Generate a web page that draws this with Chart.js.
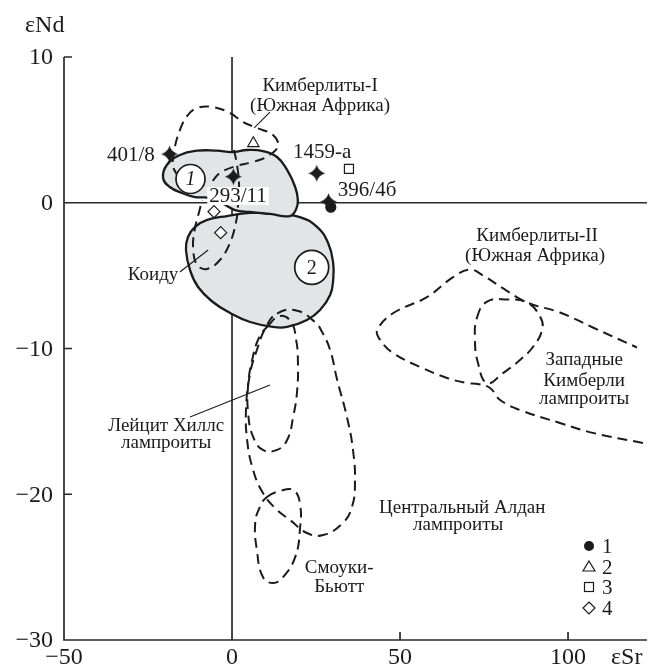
<!DOCTYPE html>
<html>
<head>
<meta charset="utf-8">
<script src="https://cdn.jsdelivr.net/npm/chart.js@4/dist/chart.umd.min.js"></script>
<style>
  html, body { margin: 0; padding: 0; background: #fff; }
  canvas { display: block; }
</style>
</head>
<body>
<canvas id="c" width="650" height="669"></canvas>
<script>
// εSr–εNd diagram: fields of kimberlites and lamproites, plus studied samples.

const xTicks = [-50, 0, 50, 100];
const yTicks = [10, 0, -10, -20, -30];

// Grey fields (closed outlines), [εSr, εNd]
const fieldOne = [[-20.5,1.70],[-19.4,2.59],[-15.5,3.28],[-10.4,3.57],[-4.5,3.57],[0,3.48],[4.5,3.62],[9.2,3.55],
  [13.4,3.14],[16.4,2.25],[18.8,1.08],[19.6,0.19],[19.1,-0.43],[17.3,-0.91],[11.3,-0.77],[5.4,-0.63],
  [0.9,-0.50],[-3.0,-0.02],[-6.6,0.33],[-11.0,0.39],[-14.9,0.67],[-18.5,1.08]];
const fieldTwo = [[-13.1,-2.35],[-11.0,-1.66],[-7.4,-1.18],[-1.5,-0.91],[5.4,-0.70],[12.2,-0.70],[20.2,-0.98],
  [25.3,-1.66],[28.6,-2.76],[30.1,-4.13],[30.1,-5.30],[29.2,-6.33],[26.2,-7.36],[22.3,-8.04],[16.4,-8.52],
  [12.2,-8.52],[5.4,-8.18],[-0.6,-7.56],[-5.7,-6.81],[-10.1,-5.78],[-12.5,-4.61],[-13.7,-3.24]];

// Dashed reference fields
const kimberlitesI = [[-16.1,1.77],[-17.6,2.59],[-17.0,3.83],[-15.5,4.99],[-13.4,5.95],[-10.4,6.50],[-5.7,6.57],
  [-0.6,6.16],[3.3,5.54],[7.4,5.13],[12.2,4.65],[13.7,3.90],[10.7,3.21],[6.3,2.80],[1.2,2.52],[-3.6,2.04],[-6.0,1.43]];
const koidu = [[0.6,3.62],[1.5,2.59],[2.1,1.22],[1.8,-0.15],[1.2,-1.32],[-0.6,-2.76],[-3.6,-3.93],[-7.4,-4.54],
  [-10.4,-4.27],[-11.6,-3.04],[-11.0,-1.73],[-9.8,-0.64],[-8.9,0.19]];
const leuciteHills = [[10.7,-8.46],[14.3,-7.77],[17.6,-8.18],[19.1,-9.42],[19.6,-10.79],[19.4,-12.85],[18.2,-14.70],
  [16.4,-16.28],[13.4,-16.96],[9.2,-16.96],[6.3,-16.07],[4.8,-14.42],[4.8,-12.50],[6.0,-10.79],[8.0,-9.28]];
const centralAldan = [[13.4,-7.60],[19.1,-7.39],[24.7,-8.18],[26.8,-8.87],[29.2,-10.10],[31.3,-12.16],[34.2,-14.70],
  [36.0,-16.96],[36.6,-19.23],[35.7,-20.87],[33.0,-21.97],[27.1,-22.80],[22.3,-22.66],[17.3,-21.77],[13.4,-21.08],
  [9.2,-19.91],[6.3,-18.34],[4.5,-16.28],[4.2,-14.02],[5.4,-11.69],[7.4,-10.10],[10.1,-8.53]];
const smokyButte = [[10.4,-20.19],[14.3,-19.78],[18.2,-19.71],[20.2,-20.60],[20.2,-22.45],[18.8,-24.31],[15.2,-25.68],
  [12.2,-26.09],[9.2,-25.68],[7.4,-23.83],[6.9,-21.97],[8.3,-20.87]];
const kimberlitesII = [[122.3,-16.48],[107.4,-15.79],[97.6,-15.11],[85.7,-14.22],[79.8,-13.53],[76.8,-12.71],
  [73.2,-12.44],[69.9,-12.37],[64.0,-12.02],[56.0,-11.27],[47.9,-10.31],[44.1,-9.42],[43.2,-8.74],[47.9,-7.58],
  [58.0,-6.48],[65.8,-5.10],[70.8,-4.58],[74.7,-4.99],[80.7,-5.88],[87.8,-6.84],[97.6,-7.53],[107.4,-8.56],[120.5,-9.93]];
const westKimberley = [[72.9,-7.89],[75.9,-6.79],[81.9,-6.64],[87.8,-6.85],[91.7,-7.82],[92.3,-8.71],[89.6,-9.88],
  [85.7,-10.79],[80.7,-11.68],[75.9,-12.37],[73.2,-10.99],[72.3,-9.42]];

// Leader lines from captions to their fields
const leaderKimberlitesI = [[11.3,6.22],[6.6,5.13]];
const leaderKoidu = [[-15.5,-4.75],[-7.1,-3.24]];
const leaderLeucite = [[-12.5,-14.70],[11.3,-12.50]];

// Field numbers
const fieldNumbers = ['1', '2'];
const fieldNumberPoints = [[-12.35,1.63],[23.72,-4.43]];

// Studied samples
const sampleNames = ['401/8', '293/11', '1459-а', '396/4б'];
const samplePoints = [[-18.6,3.34],[0.4,1.79],[25.2,2.02],[28.7,0.07]];

// Literature data, types 1–4
const type1 = [[29.4,-0.31]];
const type2 = [[6.35,4.08]];
const type3 = [[34.8,2.32]];
const type4 = [[-5.36,-0.61],[-3.37,-2.05]];
const legendNames = ['1', '2', '3', '4'];

// Caption placement, [text, εSr, εNd]
const captions = [
  ['Кимберлиты-I', 26.2, 8.01], ['(Южная Африка)', 26.2, 6.64],
  ['Коиду', -23.5, -4.96],
  ['Кимберлиты-II', 90.8, -2.30], ['(Южная Африка)', 90.2, -3.67],
  ['Западные', 104.8, -10.79], ['Кимберли', 104.8, -12.23], ['лампроиты', 104.8, -13.46],
  ['Лейцит Хиллс', -19.6, -15.32], ['лампроиты', -19.6, -16.48],
  ['Центральный Алдан', 68.5, -20.95], ['лампроиты', 67.3, -22.14],
  ['Смоуки-', 31.9, -25.06], ['Бьютт', 31.9, -26.37]
];
const sampleLabelPos = [[-30.1,3.27],[1.8,0.46],[26.8,3.48],[40.2,0.81]];

const SERIF = '"Liberation Serif", "DejaVu Serif", serif';
const INK = '#1b1b1b';

const pts = arr => arr.map(([x, y]) => ({ x, y }));
// A closed outline: wrap one point on each side so the spline joins smoothly,
// then hide the two wrap segments.
const loopData = arr => pts([arr[arr.length - 1], ...arr, arr[0], arr[1]]);
const loopSegment = arr => ({
  borderColor: c => (c.p0DataIndex === 0 || c.p0DataIndex === arr.length + 1) ? 'rgba(0,0,0,0)' : undefined
});

function greyField(arr) {
  return {
    data: loopData(arr), segment: loopSegment(arr), fill: 'shape',
    backgroundColor: '#e3e4e6', borderColor: INK, borderWidth: 2.3,
    tension: 0.45, pointRadius: 0, order: 20
  };
}
function dashedLoop(arr) {
  return {
    data: loopData(arr), segment: loopSegment(arr), fill: false,
    borderColor: INK, borderWidth: 2, borderDash: [10, 6],
    tension: 0.45, pointRadius: 0, order: 15
  };
}
function dashedOpen(arr) {
  return {
    data: pts(arr), fill: false, borderColor: INK, borderWidth: 2, borderDash: [10, 6],
    tension: 0.4, pointRadius: 0, order: 15
  };
}
function leader(arr) {
  return { data: pts(arr), fill: false, borderColor: INK, borderWidth: 1.1, tension: 0, pointRadius: 0, order: 12 };
}
function markers(arr, style, r, filled, extra) {
  return Object.assign({
    data: pts(arr), showLine: false, pointStyle: style, pointRadius: r,
    pointBackgroundColor: filled ? INK : '#fff', pointBorderColor: INK, pointBorderWidth: 1.2, order: 2
  }, extra || {});
}

// Four-pointed star used for the studied samples
function starImage(r) {
  const c = document.createElement('canvas');
  const s = Math.ceil(2 * r + 2);
  c.width = c.height = s;
  const g = c.getContext('2d');
  const m = s / 2, k = r * 0.22;
  g.beginPath();
  g.moveTo(m, m - r);
  g.quadraticCurveTo(m + k, m - k, m + r, m);
  g.quadraticCurveTo(m + k, m + k, m, m + r);
  g.quadraticCurveTo(m - k, m + k, m - r, m);
  g.quadraticCurveTo(m - k, m - k, m, m - r);
  g.closePath();
  g.fillStyle = INK;
  g.fill();
  return c;
}
const STAR = starImage(8.5);

const axesFrame = {
  id: 'axesFrame',
  beforeDatasetsDraw(chart) {
    const { ctx, chartArea: a, scales: { x, y } } = chart;
    ctx.save();
    ctx.strokeStyle = '#2a2a2a';
    ctx.lineWidth = 1.7;
    ctx.beginPath();
    ctx.moveTo(a.left, a.top); ctx.lineTo(a.left, a.bottom); ctx.lineTo(a.right, a.bottom);
    const x0 = x.getPixelForValue(0), y0 = y.getPixelForValue(0);
    ctx.moveTo(x0, a.top); ctx.lineTo(x0, a.bottom);
    ctx.moveTo(a.left, y0); ctx.lineTo(a.right, y0);
    yTicks.forEach(v => { if (v !== 0) { const p = y.getPixelForValue(v); ctx.moveTo(a.left, p); ctx.lineTo(a.left + 8, p); } });
    xTicks.forEach(v => { if (v !== 0 && v !== -50) { const p = x.getPixelForValue(v); ctx.moveTo(p, a.bottom); ctx.lineTo(p, a.bottom - 8); } });
    ctx.stroke();
    ctx.restore();
  }
};

const texts = {
  id: 'texts',
  afterDatasetsDraw(chart) {
    const { ctx, chartArea: a, scales: { x, y } } = chart;
    ctx.save();
    ctx.fillStyle = INK;
    ctx.textBaseline = 'middle';

    // axis numbers and titles
    ctx.font = '24px ' + SERIF;
    ctx.textAlign = 'right';
    yTicks.forEach(v => ctx.fillText(v < 0 ? '\u2212' + Math.abs(v) : String(v), a.left - 11, y.getPixelForValue(v) + 1));
    ctx.textAlign = 'center';
    xTicks.forEach(v => ctx.fillText(v < 0 ? '\u2212' + Math.abs(v) : String(v), x.getPixelForValue(v), a.bottom + 18));
    ctx.textAlign = 'left';
    ctx.fillText('\u03B5Nd', 25, 26);
    ctx.fillText('\u03B5Sr', 611, a.bottom + 18);

    // field captions
    ctx.font = '19px ' + SERIF;
    ctx.textAlign = 'center';
    captions.forEach(([t, vx, vy]) => ctx.fillText(t, x.getPixelForValue(vx), y.getPixelForValue(vy)));

    // field numbers inside circles
    fieldNumberPoints.forEach(([vx, vy], i) => {
      ctx.font = (i === 0 ? 'italic ' : '') + '20px ' + SERIF;
      ctx.fillText(fieldNumbers[i], x.getPixelForValue(vx), y.getPixelForValue(vy) + 1);
    });

    // sample names
    ctx.font = '21px ' + SERIF;
    sampleNames.forEach((t, i) => {
      const px = x.getPixelForValue(sampleLabelPos[i][0]), py = y.getPixelForValue(sampleLabelPos[i][1]);
      if (t === '293/11') {
        const w = ctx.measureText(t).width;
        ctx.fillStyle = '#fff';
        ctx.fillRect(px - w / 2 - 2, py - 9, w + 4, 18);
        ctx.fillStyle = INK;
      }
      ctx.fillText(t, px, py);
    });

    // legend of sample types
    const lx = 589, ly = [546, 567, 587, 608];
    ctx.lineWidth = 1.2;
    ctx.strokeStyle = INK;
    // 1: filled circle
    ctx.beginPath(); ctx.arc(lx, ly[0], 5, 0, Math.PI * 2); ctx.fill();
    // 2: open triangle
    ctx.beginPath(); ctx.moveTo(lx, ly[1] - 6); ctx.lineTo(lx + 6, ly[1] + 4); ctx.lineTo(lx - 6, ly[1] + 4); ctx.closePath(); ctx.stroke();
    // 3: open square
    ctx.strokeRect(lx - 4.5, ly[2] - 4.5, 9, 9);
    // 4: open diamond
    ctx.beginPath(); ctx.moveTo(lx, ly[3] - 6); ctx.lineTo(lx + 6, ly[3]); ctx.lineTo(lx, ly[3] + 6); ctx.lineTo(lx - 6, ly[3]); ctx.closePath(); ctx.stroke();
    ctx.font = '21px ' + SERIF;
    ctx.textAlign = 'left';
    legendNames.forEach((t, i) => ctx.fillText(t, lx + 13, ly[i] + 1));
    ctx.restore();
  }
};

new Chart(document.getElementById('c'), {
  type: 'line',
  data: {
    datasets: [
      greyField(fieldOne),
      greyField(fieldTwo),
      dashedOpen(kimberlitesI),
      dashedOpen(koidu),
      dashedLoop(leuciteHills),
      dashedLoop(centralAldan),
      dashedLoop(smokyButte),
      dashedOpen(kimberlitesII),
      dashedLoop(westKimberley),
      leader(leaderKimberlitesI),
      leader(leaderKoidu),
      leader(leaderLeucite),
      markers([fieldNumberPoints[0]], 'circle', 14.5, false, { pointBorderWidth: 1.7, order: 10 }),
      markers([fieldNumberPoints[1]], 'circle', 17, false, { pointBorderWidth: 1.7, order: 10 }),
      markers(type2, 'triangle', 6.5, false),
      markers(type3, 'rect', 6.4, false),
      markers(type4, 'rectRot', 6, false),
      markers(type1, 'circle', 5, true),
      markers(samplePoints, STAR, 8.5, true, { order: 1 })
    ]
  },
  options: {
    responsive: false,
    animation: false,
    devicePixelRatio: 1,
    layout: { autoPadding: false, padding: { left: 64, top: 57, right: 3, bottom: 29 } },
    scales: {
      x: { type: 'linear', min: -50, max: 123.5, display: false },
      y: { type: 'linear', min: -30, max: 10, display: false }
    },
    elements: { point: { radius: 0, hoverRadius: 0 } },
    plugins: { legend: { display: false }, tooltip: { enabled: false } },
    events: []
  },
  plugins: [axesFrame, texts]
});
</script>
</body>
</html>
